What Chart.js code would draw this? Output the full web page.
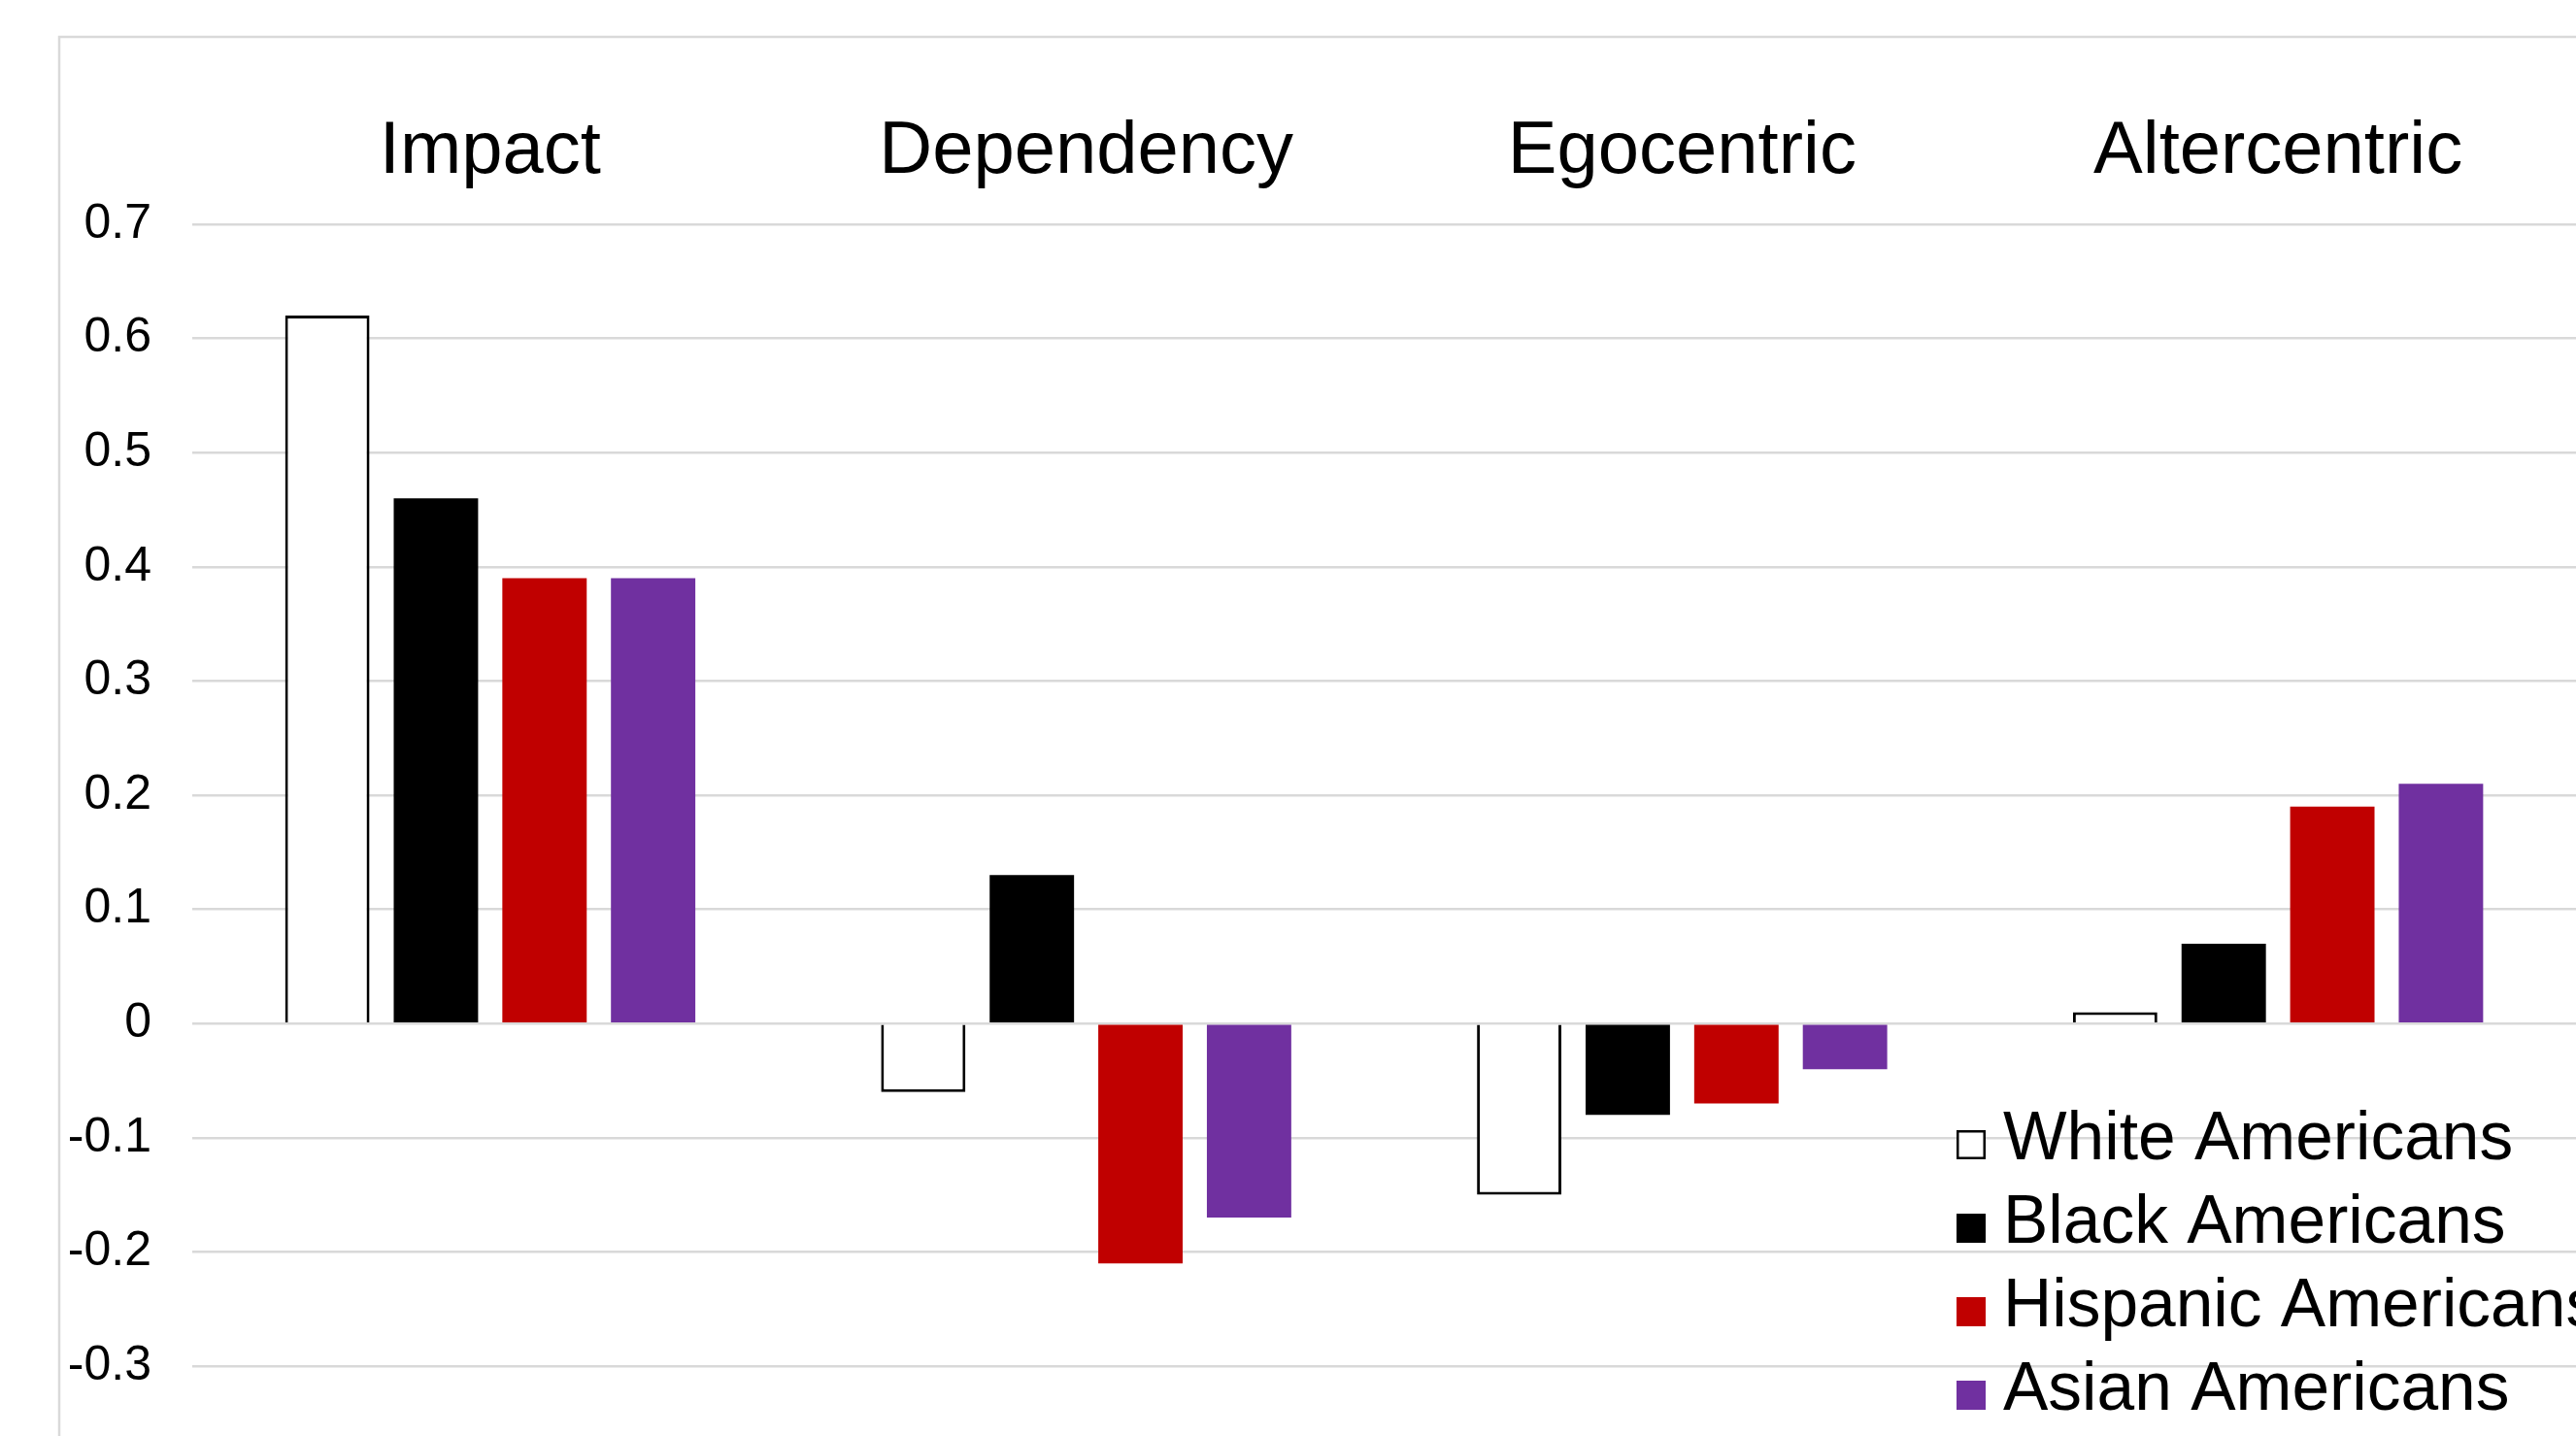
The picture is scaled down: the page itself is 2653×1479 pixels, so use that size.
<!DOCTYPE html>
<html>
<head>
<meta charset="utf-8">
<style>
  html, body { margin: 0; padding: 0; background: #ffffff; overflow: hidden; }
  #wrap { position: relative; width: 2653px; height: 1479px; }
</style>
<script src="https://cdn.jsdelivr.net/npm/chart.js@4.4.1/dist/chart.umd.min.js"></script>
</head>
<body>
<div id="wrap"><canvas id="chart" width="2653" height="1479"></canvas></div>
<script>
// Categories and group means
const categories = ['Impact', 'Dependency', 'Egocentric', 'Altercentric'];
const seriesNames = ['White Americans', 'Black Americans', 'Hispanic Americans', 'Asian Americans'];
const whiteValues = [0.62, -0.06, -0.15, 0.01];
const blackValues = [0.46, 0.13, -0.08, 0.07];
const hispanicValues = [0.39, -0.21, -0.07, 0.19];
const asianValues = [0.39, -0.17, -0.04, 0.21];
const yTicks = [-0.3, -0.2, -0.1, 0, 0.1, 0.2, 0.3, 0.4, 0.5, 0.6, 0.7];

const FONT = '"Liberation Sans", Arial, Helvetica, sans-serif';
const GRID = '#d9d9d9';

// Outer frame and white page
const framePlugin = {
  id: 'frame',
  beforeDraw(chart) {
    const ctx = chart.ctx;
    ctx.save();
    ctx.fillStyle = '#ffffff';
    ctx.fillRect(0, 0, chart.width, chart.height);
    ctx.strokeStyle = GRID;
    ctx.lineWidth = 2.5;
    ctx.strokeRect(61, 38, chart.width + 50, chart.height + 50);
    ctx.restore();
  }
};

// Legend drawn inside the plot, lower right, from the dataset list
const legendPlugin = {
  id: 'insideLegend',
  afterDatasetsDraw(chart) {
    const ctx = chart.ctx;
    ctx.save();
    ctx.font = '69.5px ' + FONT;
    ctx.textBaseline = 'alphabetic';
    ctx.textAlign = 'left';
    chart.data.datasets.forEach((ds, i) => {
      const base = 1194 + i * 86;
      const bx = 2015, bs = 30;
      ctx.fillStyle = ds.backgroundColor;
      ctx.fillRect(bx, base - bs, bs, bs);
      if (ds.borderWidth) {
        ctx.strokeStyle = ds.borderColor;
        ctx.lineWidth = 2.5;
        ctx.strokeRect(bx + 1.25, base - bs + 1.25, bs - 2.5, bs - 2.5);
      }
      ctx.fillStyle = '#000000';
      ctx.fillText(ds.label, 2063, base);
    });
    ctx.restore();
  }
};

const ctx = document.getElementById('chart').getContext('2d');
new Chart(ctx, {
  type: 'bar',
  data: {
    labels: categories,
    datasets: [
      { label: seriesNames[0], data: whiteValues, backgroundColor: '#ffffff', borderColor: '#000000', borderWidth: 3 },
      { label: seriesNames[1], data: blackValues, backgroundColor: '#000000', borderWidth: 0 },
      { label: seriesNames[2], data: hispanicValues, backgroundColor: '#c00000', borderWidth: 0 },
      { label: seriesNames[3], data: asianValues, backgroundColor: '#7030a0', borderWidth: 0 }
    ]
  },
  options: {
    responsive: false,
    animation: false,
    devicePixelRatio: 1,
    categoryPercentage: 0.729,
    barPercentage: 0.777,
    layout: { padding: { left: 0, right: 0, top: 0, bottom: 68 } },
    plugins: {
      legend: { display: false },
      tooltip: { enabled: false },
      title: { display: false }
    },
    scales: {
      x: {
        position: 'top',
        grid: { display: false, drawTicks: false },
        border: { display: false },
        ticks: {
          color: '#000000',
          font: { family: FONT, size: 76 },
          padding: 28,
          maxRotation: 0,
          autoSkip: false
        },
        afterFit(scale) { scale.height = 231; }
      },
      y: {
        min: -0.3,
        max: 0.7,
        grid: { color: GRID, lineWidth: 2.5, drawTicks: false },
        border: { display: false },
        ticks: {
          color: '#000000',
          font: { family: FONT, size: 50 },
          padding: 42,
          callback: (v) => String(v)
        },
        afterBuildTicks(scale) { scale.ticks = yTicks.map(v => ({ value: v })); },
        afterFit(scale) { scale.width = 198; }
      }
    }
  },
  plugins: [framePlugin, legendPlugin]
});
</script>
</body>
</html>
